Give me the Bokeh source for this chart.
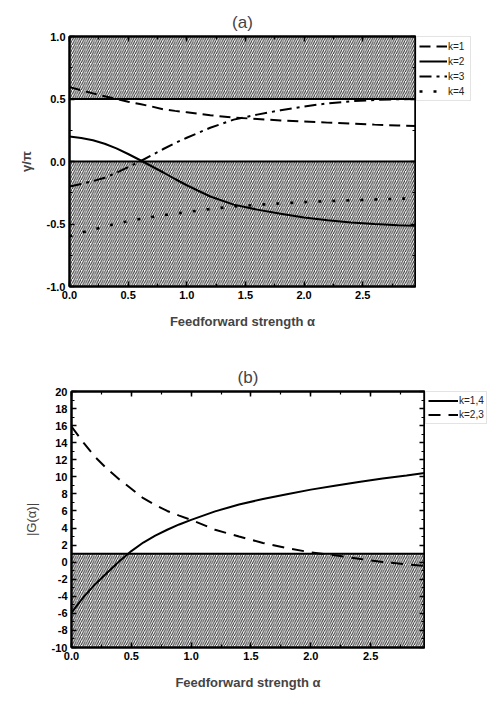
from bokeh.plotting import figure
from bokeh.models import (Legend, LegendItem, LinearAxis, Span, SingleIntervalTicker,
                          NumeralTickFormatter, Range1d, CustomJSTickFormatter)
from bokeh.layouts import column, row
from bokeh.embed import file_html
from bokeh.resources import INLINE

# ---------------- data ----------------
alpha = [0.0, 0.1, 0.2, 0.3, 0.4, 0.5, 0.6, 0.7, 0.8, 0.9, 1.0, 1.2, 1.4, 1.6, 1.8,
         2.0, 2.2, 2.4, 2.6, 2.8, 2.95]

# panel (a): gamma/pi
a_k1 = [0.595, 0.57, 0.545, 0.522, 0.50, 0.478, 0.46, 0.44, 0.418, 0.405, 0.394,
        0.37, 0.352, 0.34, 0.328, 0.32, 0.311, 0.303, 0.295, 0.288, 0.284]
a_k2 = [0.2, 0.188, 0.17, 0.142, 0.105, 0.06, 0.012, -0.038, -0.088, -0.14, -0.19,
        -0.28, -0.345, -0.385, -0.418, -0.448, -0.47, -0.488, -0.50, -0.51, -0.515]
a_k3 = [-0.2, -0.18, -0.157, -0.13, -0.09, -0.045, 0.0, 0.05, 0.10, 0.148, 0.19,
        0.27, 0.335, 0.375, 0.41, 0.44, 0.465, 0.482, 0.492, 0.498, 0.50]
a_k4 = [-0.6, -0.57, -0.545, -0.52, -0.498, -0.478, -0.46, -0.444, -0.43, -0.417, -0.405,
        -0.38, -0.36, -0.347, -0.335, -0.325, -0.317, -0.31, -0.304, -0.298, -0.295]
a_labels = ["k=1", "k=2", "k=3", "k=4"]
a_band_bottom = [0.5, -1.0]
a_band_top = [1.0, 0.0]
a_boundaries = [0.5, 0.0]

# panel (b): |G(alpha)|
b_k14 = [-5.9, -4.1, -2.55, -1.2, 0.1, 1.3, 2.3, 3.1, 3.8, 4.42, 4.96,
         5.95, 6.75, 7.4, 7.95, 8.5, 8.95, 9.4, 9.8, 10.15, 10.45]
b_k23 = [15.9, 14.0, 12.3, 10.9, 9.7, 8.6, 7.5, 6.7, 6.0, 5.45, 4.96,
         3.8, 3.0, 2.25, 1.65, 1.15, 0.8, 0.4, 0.02, -0.25, -0.45]
b_labels = ["k=1,4", "k=2,3"]
b_band_bottom = [-10.0]
b_band_top = [1.0]
b_boundaries = [1.0]

x_range = (0.0, 2.95)
a_y_range = (-1.0, 1.0)
b_y_range = (-10.0, 20.0)

FONT = "Liberation Sans"

a_styles = [dict(line_color="black", line_width=2, line_dash="11 6"),
            dict(line_color="black", line_width=2),
            dict(line_color="black", line_width=2, line_dash="12 5 3 5"),
            dict(line_color="black", line_width=2.6, line_dash="3 11")]
b_styles = [dict(line_color="black", line_width=2),
            dict(line_color="black", line_width=2, line_dash="12 8")]

HATCH = dict(fill_color="white", fill_alpha=0, line_color=None,
             hatch_pattern="/", hatch_scale=4.5, hatch_weight=1, hatch_color="#2a2a2a")


def style_axis(ax, ticker, fmt, show_labels=True):
    ax.ticker = ticker
    ax.major_tick_in = 5
    ax.major_tick_out = 0
    ax.minor_tick_in = 3
    ax.minor_tick_out = 0
    ax.major_tick_line_width = 1.5
    ax.minor_tick_line_width = 1.2
    ax.axis_line_width = 2
    ax.axis_line_color = "black"
    ax.formatter = fmt
    ax.major_label_text_font = FONT
    ax.major_label_text_font_style = "bold"
    ax.major_label_text_color = "black"
    if show_labels:
        ax.major_label_text_font_size = "11px"
        ax.major_label_standoff = 4
    else:
        ax.major_label_text_font_size = "1px"
        ax.major_label_standoff = 0


def make_fig(title, yr, w, h, bl, br, bt, bb, xint, yint, yfmt, ylabel, ybold):
    p = figure(width=w, height=h, output_backend="svg", toolbar_location=None,
               x_range=Range1d(*x_range), y_range=Range1d(*yr),
               min_border_left=bl, min_border_right=br, min_border_top=bt,
               min_border_bottom=bb)
    p.title.text = title
    p.title.align = "center"
    p.title.text_font = FONT
    p.title.text_font_style = "normal"
    p.title.text_font_size = "17px"
    p.grid.visible = False
    p.outline_line_color = "black"
    p.outline_line_width = 2
    p.background_fill_color = "white"
    p.border_fill_color = "white"
    xb = p.below[0]
    yl = p.left[0]
    style_axis(xb, SingleIntervalTicker(interval=xint, num_minor_ticks=2),
               NumeralTickFormatter(format="0.0"))
    style_axis(yl, SingleIntervalTicker(interval=yint, num_minor_ticks=2), yfmt)
    xb.axis_label = "Feedforward strength α"
    xb.axis_label_text_font = FONT
    xb.axis_label_text_font_style = "bold"
    xb.axis_label_text_font_size = "13px"
    xb.axis_label_standoff = 12
    yl.axis_label = ylabel
    yl.axis_label_text_font = FONT
    yl.axis_label_text_font_style = "bold" if ybold else "normal"
    yl.axis_label_text_font_size = "13px"
    yl.axis_label_standoff = 10
    blank = CustomJSTickFormatter(code="return ''")
    top = LinearAxis()
    style_axis(top, SingleIntervalTicker(interval=xint, num_minor_ticks=2), blank, False)
    p.add_layout(top, "above")
    right = LinearAxis()
    style_axis(right, SingleIntervalTicker(interval=yint, num_minor_ticks=2), blank, False)
    p.add_layout(right, "right")
    return p


def make_legend_fig(w, h, bt, bb, labels, series, styles, glyph_w, row_h):
    # the series are drawn here out of view; only their legend entries show
    f = figure(width=w, height=h, output_backend="svg", toolbar_location=None,
               x_axis_location=None, y_axis_location=None,
               x_range=Range1d(100, 101), y_range=Range1d(100, 101),
               min_border_left=0, min_border_right=0, min_border_top=bt,
               min_border_bottom=bb)
    f.grid.visible = False
    f.outline_line_color = None
    rs = [f.line(alpha, ys, **st) for ys, st in zip(series, styles)]
    leg = Legend(items=[LegendItem(label=l, renderers=[r]) for l, r in zip(labels, rs)],
                 location="top_left", label_text_font=FONT, label_text_font_size="10px",
                 label_text_color="#222222",
                 glyph_width=glyph_w, glyph_height=row_h, label_height=row_h,
                 label_standoff=1, spacing=1, padding=2, margin=0,
                 border_line_color="#c8c8c8", border_line_width=1,
                 background_fill_color="white")
    f.add_layout(leg, "center")
    return f


# ---------------- panel (a) ----------------
pa = make_fig("(a)", a_y_range, 416, 348, 69, 1, 36, 62, 0.5, 0.5,
              NumeralTickFormatter(format="0.0"), "γ/π", True)
pa.quad(left=x_range[0], right=x_range[1], bottom=a_band_bottom, top=a_band_top, **HATCH)
for b in a_boundaries:
    pa.add_layout(Span(location=b, dimension="width", line_color="black", line_width=2))
a_series = [a_k1, a_k2, a_k3, a_k4]
for ys, st in zip(a_series, a_styles):
    pa.line(alpha, ys, **st)
la = make_legend_fig(73, 348, 36, 62, a_labels, a_series, a_styles, 28, 14)

# ---------------- panel (b) ----------------
pb = make_fig("(b)", b_y_range, 425, 344, 71, 1, 43, 41, 0.5, 2,
              NumeralTickFormatter(format="0"), "|G(α)|", False)
pb.quad(left=x_range[0], right=x_range[1], bottom=b_band_bottom, top=b_band_top, **HATCH)
for b in b_boundaries:
    pb.add_layout(Span(location=b, dimension="width", line_color="black", line_width=2))
b_series = [b_k14, b_k23]
for ys, st in zip(b_series, b_styles):
    pb.line(alpha, ys, **st)
lb = make_legend_fig(64, 344, 42, 41, b_labels, b_series, b_styles, 30, 13)

layout = column(row(pa, la, spacing=0), row(pb, lb, spacing=0), spacing=0)
open("out.html", "w").write(file_html(layout, INLINE))
